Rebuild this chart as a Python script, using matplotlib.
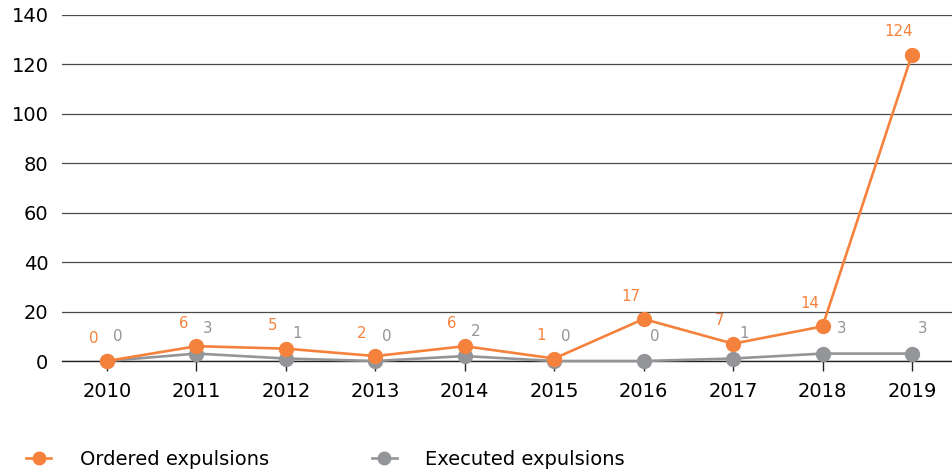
import matplotlib.pyplot as plt

# dados
anos = ['2010', '2011', '2012', '2013', '2014', '2015', '2016', '2017', '2018', '2019']
ordenadas = [0, 6, 5, 2, 6, 1, 17, 7, 14, 124]
executadas = [0, 3, 1, 0, 2, 0, 0, 1, 3, 3]
y_ticks = [0, 20, 40, 60, 80, 100, 120, 140]

LARANJA = '#F5823C'
CINZA = '#939598'

plt.rcParams['font.family'] = ['DejaVu Sans']

fig = plt.figure(figsize=(9.53, 4.73), dpi=100)
ax = fig.add_axes([62.3 / 953, 112 / 473, 894.4 / 953, 346 / 473])

x = list(range(len(anos)))

ax.plot(x, executadas, color=CINZA, lw=1.9, marker='o', ms=10,
        clip_on=False, zorder=3, label='Executed expulsions')
ax.plot(x, ordenadas, color=LARANJA, lw=1.9, marker='o', ms=10,
        clip_on=False, zorder=4, label='Ordered expulsions')

# rotulos dos pontos
for i in x:
    ax.annotate(str(ordenadas[i]), (i, ordenadas[i]), xytext=(-9.5, 16.5),
                textcoords='offset points', ha='center', va='center',
                color=LARANJA, fontsize=10.8)
    # no 2018 o rotulo cinza fica mais a direita, longe da linha laranja
    dx = 14 if anos[i] == '2018' else 8
    ax.annotate(str(executadas[i]), (i, executadas[i]), xytext=(dx, 18),
                textcoords='offset points', ha='center', va='center',
                color=CINZA, fontsize=10.8)

ax.set_xlim(-0.5, len(anos) - 0.5)
ax.set_ylim(0, 140)
ax.set_yticks(y_ticks)
ax.set_xticks(x)
ax.set_xticklabels(anos)

ax.grid(axis='y', color='#4a4a4a', lw=0.9)
ax.set_axisbelow(True)
for s in ['left', 'right', 'top']:
    ax.spines[s].set_visible(False)
ax.spines['bottom'].set_color('#222222')
ax.spines['bottom'].set_linewidth(1)

ax.tick_params(axis='y', length=0, pad=10, labelsize=14)
ax.tick_params(axis='x', length=7, width=1, color='#222222', pad=8, labelsize=14)

h, l = ax.get_legend_handles_labels()
fig.legend(h[::-1], l[::-1], loc='center left', bbox_to_anchor=(0.009, 0.028),
           ncol=2, frameon=False, fontsize=14, handlelength=1.3,
           handletextpad=1.45, columnspacing=5.3, markerscale=0.9)

fig.savefig('out.png', dpi=100)
